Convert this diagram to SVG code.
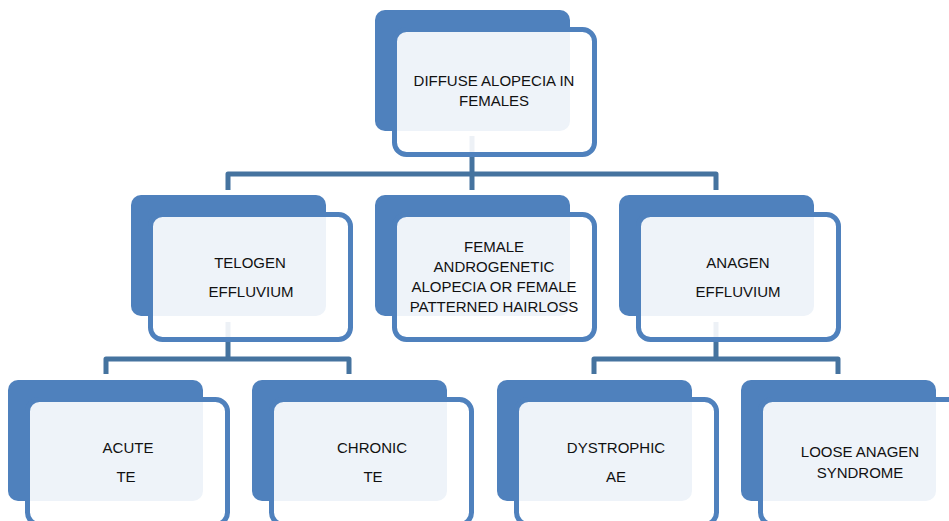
<svg xmlns="http://www.w3.org/2000/svg" width="949" height="521" viewBox="0 0 949 521">
<style>
.bg{fill:#4F81BD}
.fr{fill:#FFFFFF;fill-opacity:0.9;stroke:#4F81BD;stroke-width:5}
.cn{fill:none;stroke:#45739F;stroke-width:5;stroke-linejoin:round}
text{font-family:"Liberation Sans",Arial,sans-serif;font-size:15px;fill:#111111;text-anchor:middle}
</style>
<rect width="949" height="521" fill="#FFFFFF"/>
<g id="connectors">
<path class="cn" d="M472,136 V190"/>
<path class="cn" d="M228,190 V174 H716 V190"/>
<path class="cn" d="M228,322 V359"/>
<path class="cn" d="M106,374 V359 H349 V374"/>
<path class="cn" d="M716,322 V359"/>
<path class="cn" d="M594,374 V359 H838 V374"/>
</g>
<g id="node-root">
<rect class="bg" x="375" y="10" width="195" height="121" rx="10"/>
<rect class="fr" x="394.5" y="29.5" width="200" height="125" rx="12"/>
<text x="494" y="86">DIFFUSE ALOPECIA IN</text>
<text x="494" y="106">FEMALES</text>
</g>
<g id="node-telogen">
<rect class="bg" x="131" y="195" width="195" height="121" rx="10"/>
<rect class="fr" x="150.5" y="214.5" width="200" height="125" rx="12"/>
<text x="250" y="268">TELOGEN</text>
<text x="251" y="297">EFFLUVIUM</text>
</g>
<g id="node-fagA">
<rect class="bg" x="375" y="195" width="195" height="121" rx="10"/>
<rect class="fr" x="394.5" y="214.5" width="200" height="125" rx="12"/>
<text x="494" y="252">FEMALE</text>
<text x="494" y="272">ANDROGENETIC</text>
<text x="494" y="292">ALOPECIA OR FEMALE</text>
<text x="494" y="312">PATTERNED HAIRLOSS</text>
</g>
<g id="node-anagen">
<rect class="bg" x="619" y="195" width="195" height="121" rx="10"/>
<rect class="fr" x="638.5" y="214.5" width="200" height="125" rx="12"/>
<text x="738" y="268">ANAGEN</text>
<text x="738" y="297">EFFLUVIUM</text>
</g>
<g id="node-acute">
<rect class="bg" x="8" y="380" width="195" height="121" rx="10"/>
<rect class="fr" x="27.5" y="399.5" width="200" height="125" rx="12"/>
<text x="128" y="453">ACUTE</text>
<text x="126" y="482">TE</text>
</g>
<g id="node-chronic">
<rect class="bg" x="252" y="380" width="195" height="121" rx="10"/>
<rect class="fr" x="271.5" y="399.5" width="200" height="125" rx="12"/>
<text x="372" y="453">CHRONIC</text>
<text x="373" y="482">TE</text>
</g>
<g id="node-dystrophic">
<rect class="bg" x="497" y="380" width="195" height="121" rx="10"/>
<rect class="fr" x="516.5" y="399.5" width="200" height="125" rx="12"/>
<text x="616" y="453">DYSTROPHIC</text>
<text x="616" y="482">AE</text>
</g>
<g id="node-loose">
<rect class="bg" x="741" y="380" width="195" height="121" rx="10"/>
<rect class="fr" x="760.5" y="399.5" width="200" height="125" rx="12"/>
<text x="860" y="457">LOOSE ANAGEN</text>
<text x="860" y="478">SYNDROME</text>
</g>
</svg>
